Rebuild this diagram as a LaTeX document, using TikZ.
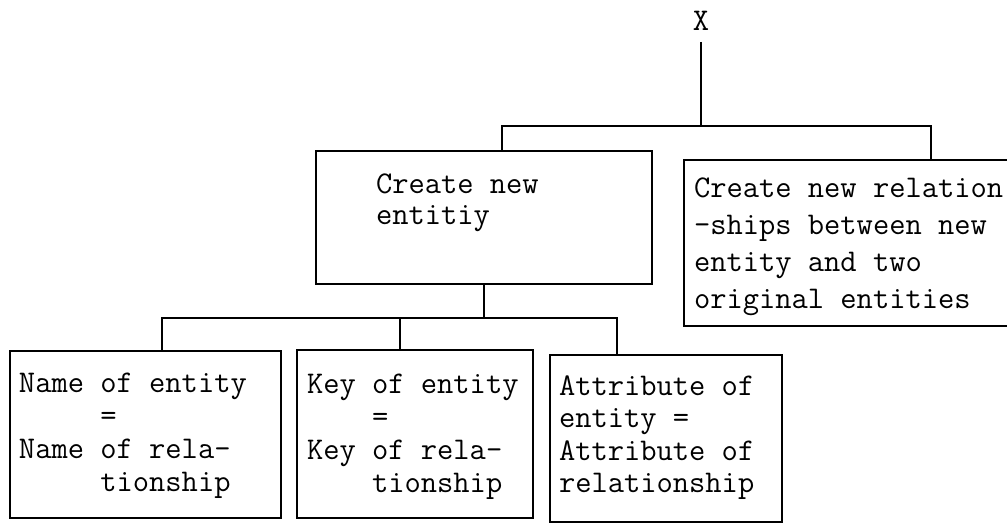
\documentclass[tikz,border=0pt]{standalone}
\usepackage{fontspec}
\usetikzlibrary{calc}
\newcommand{\boxlines}[1]{\begin{tabular}[t]{@{}l@{}}#1\end{tabular}}
\begin{document}
\begin{tikzpicture}[x=1pt,y=-1pt,
  box/.style={draw, line width=1.3pt, inner sep=0pt, outer sep=0pt, anchor=north west},
  lbl/.style={inner sep=0pt, outer sep=0pt, anchor=base west,
              font=\ttfamily\fontsize{31.6}{#1}\selectfont},
  lbl/.default=33,
  link/.style={line width=1.3pt}]
\useasboundingbox (0,0) rectangle (1007,527);
\clip (0,0) rectangle (1007,527);

% root label
\node[lbl, anchor=base] (x) at (701,31) {X};

% second level
\node[box, minimum width=336pt, minimum height=133pt] (a) at (316,151) {};
\node[box, minimum width=330pt, minimum height=166pt] (b) at (684,160) {};
\node[lbl=31] (ta) at (376,193) {\boxlines{Create new\\entitiy}};
\node[lbl=37] (tb) at (694,197)
  {\boxlines{Create new relation\\-ships between new\\entity and two\\original entities}};

% third level
\node[box, minimum width=271pt, minimum height=167pt] (c1) at (10,351) {};
\node[box, minimum width=236pt, minimum height=168pt] (c2) at (297,350) {};
\node[box, minimum width=232pt, minimum height=167pt] (c3) at (550,355) {};
\node[lbl] (tc1) at (19,392)
  {\boxlines{Name of entity\\\phantom{xxxxx}=\\Name of rela-\\\phantom{xxxxx}tionship}};
\node[lbl] (tc2) at (307,393)
  {\boxlines{Key of entity\\\phantom{xxxx}=\\Key of rela-\\\phantom{xxxx}tionship}};
\node[lbl=32.5] (tc3) at (559,395)
  {\boxlines{Attribute of\\entity =\\Attribute of\\relationship}};

% tree connectors
\coordinate (j1) at (701,126);
\coordinate (j2) at (484,318);
\draw[link] ([yshift=-11pt]x.south) -- (x.south |- j1);
\draw[link] ([xshift=18pt]a.north) |- (j1) -| ([xshift=82pt]b.north);
\draw[link] (a.south) -- (a.south |- j2);
\draw[link] ([xshift=16.5pt]c1.north) |- (j2) -| ([xshift=-49pt]c3.north);
\draw[link] ([xshift=-15pt]c2.north) -- ([xshift=-15pt]c2.north |- j2);
\end{tikzpicture}
\end{document}
